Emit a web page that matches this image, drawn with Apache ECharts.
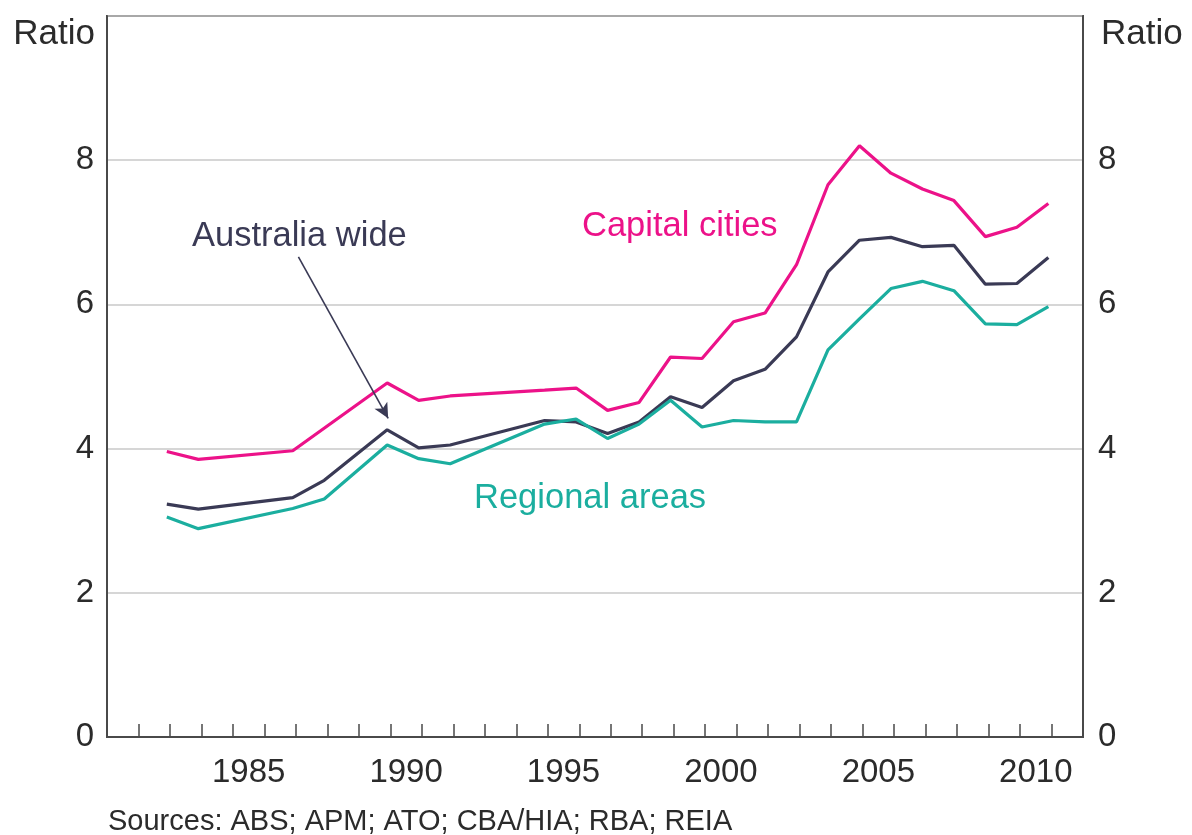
<!DOCTYPE html>
<html>
<head>
<meta charset="utf-8">
<script src="https://cdn.jsdelivr.net/npm/echarts@6/dist/echarts.min.js"></script>
<style>
html,body{margin:0;padding:0;background:#fff;}
#chart{width:1192px;height:835px;}
</style>
</head>
<body>
<div id="chart"></div>
<script>
// Category years shown along the x axis (tick bands)
var axisYears = [1981,1982,1983,1984,1985,1986,1987,1988,1989,1990,1991,1992,1993,1994,1995,1996,1997,1998,1999,2000,2001,2002,2003,2004,2005,2006,2007,2008,2009,2010,2011];
// Observation years
var years = [1983,1984,1985,1986,1987,1988,1989,1990,1991,1992,1993,1994,1995,1996,1997,1998,1999,2000,2001,2002,2003,2004,2005,2006,2007,2008,2009,2010,2011];
// null = no observation (line drawn straight across)
var capitalCities = [3.96,3.85,null,null,3.97,null,null,4.91,4.67,4.73,null,null,4.81,4.84,4.53,4.64,5.27,5.25,5.76,5.88,6.55,7.66,8.20,7.82,7.60,7.44,6.94,7.07,7.40];
var australiaWide = [3.23,3.16,null,null,3.32,3.56,null,4.26,4.01,4.05,null,null,4.39,4.37,4.21,4.37,4.72,4.57,4.94,5.10,5.55,6.45,6.89,6.93,6.80,6.82,6.28,6.29,6.65];
var regionalAreas = [3.05,2.89,null,null,3.17,3.30,null,4.05,3.86,3.79,null,null,4.34,4.41,4.14,4.34,4.67,4.30,4.39,4.37,4.37,5.37,5.80,6.22,6.32,6.19,5.73,5.72,5.97];
var yTicks = [0,2,4,6,8];

var PINK = '#EC1289', NAVY = '#3A3A55', TEAL = '#1BAE9F';
var FONT = '"Liberation Sans", Arial, sans-serif';

function pairs(vals){
  var out = [];
  for (var i=0;i<years.length;i++){ if (vals[i] !== null) out.push([years[i], vals[i]]); }
  return out;
}

var chart = echarts.init(document.getElementById('chart'));
var labelStyle = {fontFamily: FONT, fontSize: 33, color: '#2b2b2b'};

chart.setOption({
  animation: false,
  backgroundColor: '#fff',
  grid: {left:107, right:109, top:16, bottom:98, show:true, borderColor:'#4a4a4a', borderWidth:2, backgroundColor:'transparent'},
  xAxis: [
    {
      type:'category', data: axisYears, boundaryGap:true,
      axisLine:{show:true, lineStyle:{color:'#4a4a4a', width:2}},
      axisTick:{show:true, inside:true, length:13, interval:0, lineStyle:{color:'#4a4a4a', width:1.5}},
      axisLabel: Object.assign({interval: function(i, v){ return (+v) % 5 === 0; }, margin:19}, labelStyle),
      splitLine:{show:false}
    },
    {type:'value', min:1981.1, max:2012.1, show:false}
  ],
  yAxis: [
    {
      type:'value', min:0, max:10, interval:2, position:'left',
      axisLine:{show:true, lineStyle:{color:'#4a4a4a', width:2}},
      axisTick:{show:false},
      axisLabel: Object.assign({margin:13, formatter:function(v){ return yTicks.indexOf(v) >= 0 ? String(v) : ''; }}, labelStyle),
      splitLine:{show:true, lineStyle:{color:'#c8c8c8', width:1.5}}
    },
    {
      type:'value', min:0, max:10, interval:2, position:'right',
      axisLine:{show:true, lineStyle:{color:'#4a4a4a', width:2}},
      axisTick:{show:false},
      axisLabel: Object.assign({margin:15, formatter:function(v){ return yTicks.indexOf(v) >= 0 ? String(v) : ''; }}, labelStyle),
      splitLine:{show:false}
    }
  ],
  series: [
    {type:'line', name:'Capital cities', xAxisIndex:1, yAxisIndex:0, data:pairs(capitalCities), showSymbol:false, symbol:'none',
     lineStyle:{color:PINK, width:3.2}, itemStyle:{color:PINK}, z:3},
    {type:'line', name:'Australia wide', xAxisIndex:1, yAxisIndex:0, data:pairs(australiaWide), showSymbol:false, symbol:'none',
     lineStyle:{color:NAVY, width:3.2}, itemStyle:{color:NAVY}, z:4,
     markLine:{silent:true, symbol:['none','arrow'], symbolSize:[11,15], label:{show:false},
       lineStyle:{color:NAVY, width:1.6, type:'solid'},
       data:[[{coord:[1987.18, 6.66]}, {coord:[1990.03, 4.42]}]]}},
    {type:'line', name:'Regional areas', xAxisIndex:1, yAxisIndex:0, data:pairs(regionalAreas), showSymbol:false, symbol:'none',
     lineStyle:{color:TEAL, width:3.2}, itemStyle:{color:TEAL}, z:5}
  ],
  graphic: [
    {type:'text', x:95, y:34, style:{text:'Ratio', font:'35px '+FONT, fill:'#2b2b2b', textAlign:'right', textVerticalAlign:'middle'}},
    {type:'text', x:1101, y:34, style:{text:'Ratio', font:'35px '+FONT, fill:'#2b2b2b', textAlign:'left', textVerticalAlign:'middle'}},
    {type:'text', x:192, y:236, style:{text:'Australia wide', font:'34.5px '+FONT, fill:NAVY, textAlign:'left', textVerticalAlign:'middle'}},
    {type:'text', x:582, y:226, style:{text:'Capital cities', font:'34.5px '+FONT, fill:PINK, textAlign:'left', textVerticalAlign:'middle'}},
    {type:'text', x:474, y:498, style:{text:'Regional areas', font:'34.5px '+FONT, fill:TEAL, textAlign:'left', textVerticalAlign:'middle'}},
    {type:'text', x:108, y:822, style:{text:'Sources: ABS; APM; ATO; CBA/HIA; RBA; REIA', font:'29px '+FONT, fill:'#2b2b2b', textAlign:'left', textVerticalAlign:'middle'}}
  ]
});
</script>
</body>
</html>
